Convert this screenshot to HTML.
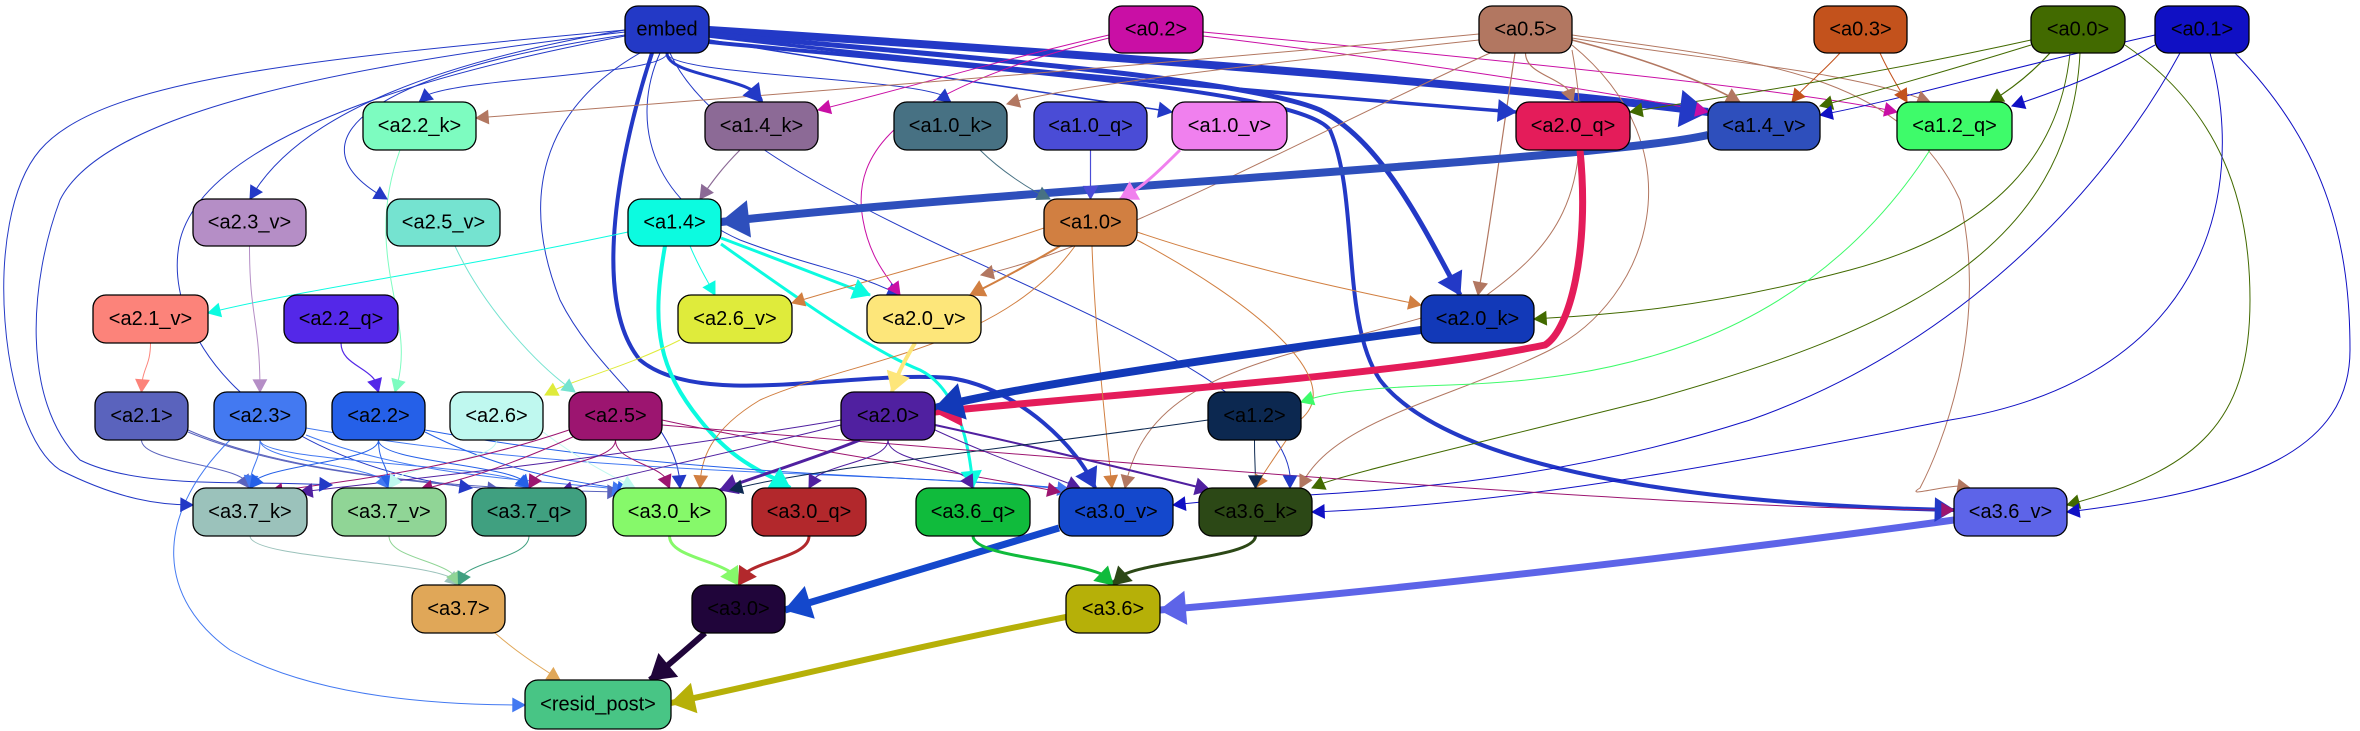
<!DOCTYPE html>
<html><head><meta charset="utf-8"><style>
html,body{margin:0;padding:0;background:#fff;width:2360px;height:731px;overflow:hidden}
svg{display:block}
text{font-family:"Liberation Sans",sans-serif;font-size:20px;text-anchor:middle;dominant-baseline:central}
</style></head><body>
<svg id="s" width="2360" height="731" viewBox="0 0 2360 731" xmlns="http://www.w3.org/2000/svg">
<g id="edges" fill="none"></g><g id="heads"></g><g id="nodes"></g>
</svg>
<script>
const R=[[6,53],[102,150],[199,246],[295,343],[392,440],[488,536],[585,633],[680,729]];
const N={
embed:[625,709,0,'#2339c6','embed'],
a02:[1109,1203,0,'#c90fa5','<a0.2>'],a05:[1479,1572,0,'#b27761','<a0.5>'],a03:[1814,1907,0,'#c3521c','<a0.3>'],
a00:[2031,2125,0,'#426a00','<a0.0>'],a01:[2155,2249,0,'#1010c4','<a0.1>'],
a22k:[363,476,1,'#7dfcc0','<a2.2_k>'],a14k:[705,818,1,'#8c6a96','<a1.4_k>'],a10k:[894,1007,1,'#477183','<a1.0_k>'],
a10q:[1034,1147,1,'#4a4cd6','<a1.0_q>'],a10v:[1172,1287,1,'#f080ee','<a1.0_v>'],a20q:[1516,1630,1,'#e41c5a','<a2.0_q>'],
a14v:[1708,1820,1,'#2e4fbc','<a1.4_v>'],a12q:[1897,2012,1,'#3efb6a','<a1.2_q>'],
a23v:[193,306,2,'#b58ec6','<a2.3_v>'],a25v:[387,500,2,'#75e3d0','<a2.5_v>'],a14:[628,721,2,'#0cfbe0','<a1.4>'],a10:[1044,1137,2,'#d17f41','<a1.0>'],
a21v:[93,208,3,'#fc837a','<a2.1_v>'],a22q:[284,398,3,'#5428e8','<a2.2_q>'],a26v:[678,792,3,'#dfeb3b','<a2.6_v>'],a20v:[867,981,3,'#fde67a','<a2.0_v>'],a20k:[1421,1534,3,'#1239b8','<a2.0_k>'],
a21:[95,188,4,'#5a63bd','<a2.1>'],a23:[214,306,4,'#4379f1','<a2.3>'],a22:[332,425,4,'#2560e8','<a2.2>'],a26:[450,543,4,'#bff8ef','<a2.6>'],a25:[569,662,4,'#9c1570','<a2.5>'],a20:[841,935,4,'#5020a0','<a2.0>'],a12:[1208,1301,4,'#0c2850','<a1.2>'],
a37k:[193,307,5,'#9bc2bb','<a3.7_k>'],a37v:[332,446,5,'#90d596','<a3.7_v>'],a37q:[472,586,5,'#40a080','<a3.7_q>'],a30k:[613,726,5,'#86f96a','<a3.0_k>'],a30q:[752,866,5,'#b2282c','<a3.0_q>'],a36q:[916,1030,5,'#10bb3c','<a3.6_q>'],a30v:[1059,1173,5,'#1448cc','<a3.0_v>'],a36k:[1199,1312,5,'#2c4816','<a3.6_k>'],a36v:[1954,2067,5,'#5d64e8','<a3.6_v>'],
a37:[412,505,6,'#e0a758','<a3.7>'],a30:[692,785,6,'#20053a','<a3.0>'],a36:[1066,1160,6,'#b6b008','<a3.6>'],
rp:[525,671,7,'#48c585','<resid_post>']};
const E=[];
function e(a,b,w,d,col){E.push([a,b,w||1,d,col]);}
// embed
e('embed','a22k',1);e('embed','a14k',3);e('embed','a10k',1);e('embed','a10v',1.5,'M709,40 C950,80 1100,100 1172,112');
e('embed','a20q',3.5,'M709,36 C1000,70 1300,95 1516,112');
e('embed','a14v',8,'M709,30 C1100,55 1500,85 1708,112');
e('embed','a20k',5,'M709,34 C1000,60 1250,80 1320,110 C1380,140 1420,220 1460,295');
e('embed','a23v',1,'M625,30 C450,60 300,110 250,199');
e('embed','a25v',1,'M625,35 C380,70 280,140 387,199');
e('embed','a20v',1,'M660,53 C630,120 650,200 740,240 C820,270 850,270 900,295');
e('embed','a30k',1,'M640,53 C540,110 520,200 560,300 C600,380 680,420 680,488');
e('embed','a37k',1,'M625,30 C300,60 100,80 40,150 C-20,220 0,430 60,470 C120,500 160,505 193,505');
e('embed','a37v',1,'M625,32 C300,70 100,120 60,200 C30,280 20,400 80,460 C140,490 250,480 332,485');
e('embed','a37q',1,'M625,36 C340,90 200,160 180,240 C160,330 250,460 472,488');
e('embed','a36k',1,'M670,53 C700,120 800,180 950,250 C1100,320 1300,400 1290,488');
e('embed','a30v',4,'M652,53 C620,150 590,300 640,360 C700,410 850,370 950,378 C1020,388 1080,450 1095,488');
e('embed','a36v',4,'M709,42 C1000,70 1300,90 1330,130 C1360,200 1340,320 1380,380 C1450,470 1700,505 1954,510');
// a0.2
e('a02','a14k',1,'M1109,35 C1000,60 900,90 818,110','#c90fa5');
e('a02','a20v',1,'M1109,38 C900,90 850,150 863,220 C870,260 890,280 900,295');
e('a02','a12q',1,'M1203,32 C1500,60 1800,90 1897,112');
e('a02','a14v',1,'M1203,36 C1400,60 1600,90 1708,112');
// a0.5
e('a05','a22k',1,'M1479,34 C1100,70 700,100 476,118');
e('a05','a10k',1,'M1479,40 C1200,70 1050,90 1007,104');
e('a05','a20q',1.2);e('a05','a14v',1.5,'M1572,40 C1650,60 1700,80 1740,102');
e('a05','a20k',1.2,'M1515,53 C1500,150 1490,230 1478,295');
e('a05','a20v',1,'M1490,53 C1300,140 1100,250 981,275');
e('a05','a36k',1,'M1572,45 C1700,150 1650,300 1550,350 C1450,400 1330,420 1300,488');
e('a05','a30v',1,'M1572,50 C1600,200 1550,250 1480,300 C1300,360 1150,360 1125,488');
e('a05','a36v',1,'M1572,35 C1750,60 1900,70 1960,200 C1990,330 1940,450 1920,488 C1900,500 1960,480 1970,488','#b27761');
e('a05','a12q',1,'M1572,38 C1700,60 1850,70 1930,102');
// a0.3
e('a03','a14v',1,'M1840,53 C1820,75 1800,90 1792,102');e('a03','a12q',1,'M1880,53 C1890,75 1900,90 1907,102');
// a0.0
e('a00','a20q',1,'M2031,40 C1850,80 1700,100 1630,112');
e('a00','a14v',1,'M2031,45 C1950,70 1880,90 1820,106');
e('a00','a12q',1.2,'M2050,53 C2030,75 2010,90 1990,102');
e('a00','a20k',1,'M2070,53 C2060,150 2000,230 1850,270 C1700,310 1600,315 1534,319');
e('a00','a36k',1,'M2080,53 C2070,250 1900,330 1650,400 C1450,450 1320,480 1312,488');
e('a00','a36v',1,'M2125,45 C2220,110 2250,200 2250,300 C2250,420 2200,470 2067,505');
// a0.1
e('a01','a14v',1,'M2155,35 C2000,70 1900,100 1820,115');
e('a01','a12q',1,'M2155,45 C2100,75 2060,90 2012,106');
e('a01','a30v',1,'M2180,53 C2100,200 1950,350 1750,420 C1500,500 1300,490 1173,505');
e('a01','a36k',1,'M2210,53 C2250,200 2200,380 1950,420 C1700,470 1500,505 1312,512');
e('a01','a36v',1,'M2235,53 C2330,150 2350,250 2350,350 C2350,450 2250,490 2067,512');
// a1 row
e('a14v','a14',8,'M1708,135 C1600,160 1000,190 721,222');
e('a10q','a10',1.2);e('a10k','a10',1,'M980,150 C1000,170 1030,190 1050,199');e('a10v','a10',3,'M1180,150 C1160,170 1140,190 1120,199');
e('a14k','a14',1.2,'M740,150 C720,170 710,185 700,199');
e('a20q','a20',7,'M1580,150 C1590,250 1570,330 1545,345 C1400,375 1100,395 935,412');
e('a12q','a12',1,'M1930,150 C1800,350 1600,380 1450,385 C1350,388 1320,395 1301,402');
// a1.4
e('a14','a21v',1,'M628,232 C450,270 300,290 208,313');
e('a14','a26v',1,'M690,246 C700,270 710,285 715,295');
e('a14','a20v',3,'M721,238 C780,260 830,280 870,295');
e('a14','a30q',4,'M665,246 C650,330 660,370 700,420 C740,470 775,475 790,488');
e('a14','a36q',3,'M721,244 C800,300 870,350 920,370 C960,390 970,450 973,488');
// a1.0
e('a10','a26v',1,'M1044,228 C950,260 850,285 792,303');
e('a10','a20v',2,'M1060,246 C1020,270 990,285 970,295');
e('a10','a20k',1,'M1137,232 C1250,270 1350,290 1421,305');
e('a10','a30v',1,'M1092,246 C1095,330 1105,420 1112,488');
e('a10','a36k',1,'M1137,240 C1250,300 1350,380 1300,420 C1280,450 1265,470 1255,488');
e('a10','a30k',1,'M1075,246 C1000,350 850,360 760,400 C710,430 700,460 700,488');
e('a20k','a20',8,'M1421,330 C1200,360 1000,390 935,408');
e('a20v','a20',4,'M915,343 C905,360 895,378 892,392');
e('a23v','a23',1);e('a25v','a25',1,'M455,246 C480,300 530,360 575,392');e('a22k','a22',1,'M400,150 C360,260 420,320 395,392');
e('a21v','a21',1);e('a22q','a22',1.2);e('a26v','a26',1,'M680,340 C620,370 570,380 545,395');
// row4
e('a21','a37k',1);e('a21','a37q',1,'M188,432 C280,470 400,480 500,490');e('a21','a30k',1,'M188,430 C300,480 500,490 620,492');
e('a23','a37k',1);e('a23','a37v',1);e('a23','a37q',1);e('a23','a30k',1,'M306,435 C420,480 550,480 625,490');
e('a23','rp',1,'M230,440 C150,520 160,600 230,650 C320,700 450,705 525,705');
e('a23','a30v',1,'M306,428 C600,480 900,470 1070,490');
e('a22','a37k',1);e('a22','a37v',1);e('a22','a37q',1);e('a22','a30k',1,'M425,432 C500,470 560,480 630,490');e('a22','a30v',1,'M425,430 C700,480 950,475 1080,490');
e('a26','a37v',1);e('a26','a30k',1,'M543,432 C580,460 610,475 635,488');
e('a25','a37k',1,'M569,430 C450,470 350,480 270,492');e('a25','a37v',1,'M575,436 C500,470 460,480 420,490');e('a25','a37q',1);e('a25','a30k',1);
e('a25','a30v',1,'M662,420 C800,450 950,470 1060,492');e('a25','a36v',1,'M662,425 C1200,470 1700,510 1954,510');
e('a20','a37k',1,'M841,420 C600,460 400,480 300,492');e('a20','a37q',1,'M841,425 C700,460 600,480 560,492');
e('a20','a30k',3,'M860,440 C810,460 760,475 720,490');e('a20','a30q',1);e('a20','a36q',1);
e('a20','a36k',2,'M935,425 C1050,450 1150,475 1210,490');e('a20','a30v',1,'M935,430 C1000,460 1050,475 1080,488');
e('a12','a36k',1);e('a12','a30k',1,'M1208,420 C1000,450 800,470 730,490');
// row5
e('a37k','a37',1);e('a37v','a37',1);e('a37q','a37',1);e('a30k','a30',3);e('a30q','a30',3);
e('a30v','a30',7,'M1059,528 C950,560 850,590 785,610');
e('a36q','a36',3);e('a36k','a36',3);
e('a36v','a36',7,'M1954,520 C1700,555 1400,590 1160,610');
e('a37','rp',1,'M495,633 C520,655 545,670 560,680');
e('a30','rp',6,'M705,633 C680,655 665,668 650,680');
e('a36','rp',6,'M1066,617 C900,650 780,680 671,703');

const NS='http://www.w3.org/2000/svg';
const gE=document.getElementById('edges'),gH=document.getElementById('heads'),gN=document.getElementById('nodes');
function cx(n){return (N[n][0]+N[n][1])/2}
for(const [a,b,w,d0,col] of E){
  let d=d0;
  if(!d){const x1=cx(a),y1=R[N[a][2]][1],x2=cx(b),y2=R[N[b][2]][0];const m=(y2-y1)/2;
    d=`M${x1},${y1} C${x1},${y1+m} ${x2},${y2-m} ${x2},${y2}`;}
  const c=col||N[a][3];
  const p=document.createElementNS(NS,'path');p.setAttribute('d',d);p.setAttribute('stroke',c);p.setAttribute('stroke-width',w);
  gE.appendChild(p);
  const L=p.getTotalLength();const hl=10+w*2.2,hw=5+w*1.6;
  const P=p.getPointAtLength(L),Q=p.getPointAtLength(Math.max(0,L-hl));
  let dx=P.x-Q.x,dy=P.y-Q.y;const l=Math.hypot(dx,dy)||1;dx/=l;dy/=l;
  const bx=P.x-dx*hl,by=P.y-dy*hl;
  const poly=document.createElementNS(NS,'polygon');
  poly.setAttribute('points',`${P.x},${P.y} ${bx-dy*hw},${by+dx*hw} ${bx+dy*hw},${by-dx*hw}`);
  poly.setAttribute('fill',c);poly.setAttribute('stroke',c);gH.appendChild(poly);
}
for(const k in N){const [x1,x2,r,c,t]=N[k];const y1=R[r][0],y2=R[r][1];
  const rc=document.createElementNS(NS,'rect');rc.setAttribute('x',x1);rc.setAttribute('y',y1);rc.setAttribute('width',x2-x1);rc.setAttribute('height',y2-y1);
  rc.setAttribute('rx',13);rc.setAttribute('fill',c);rc.setAttribute('stroke','#000');rc.setAttribute('stroke-width',1.3);gN.appendChild(rc);
  const tx=document.createElementNS(NS,'text');tx.setAttribute('x',(x1+x2)/2);tx.setAttribute('y',(y1+y2)/2);tx.textContent=t;gN.appendChild(tx);}
</script>
</body></html>
